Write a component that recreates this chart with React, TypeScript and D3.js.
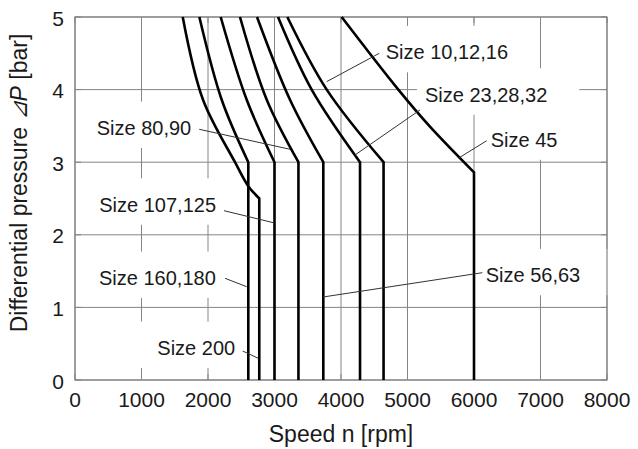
import React from "react";
import * as d3 from "d3";

// ---- data ----
const xTicks = [0, 1000, 2000, 3000, 4000, 5000, 6000, 7000, 8000];
const yTicks = [0, 1, 2, 3, 4, 5];

const curveSizes = ["Size 200", "Size 160,180", "Size 107,125", "Size 80,90", "Size 56,63", "Size 23,28,32", "Size 10,12,16", "Size 45"];
const curveSpeeds = [
  [1620, 1925, 2406, 2606, 2771],
  [1870, 2206, 2606],
  [2191, 2582, 3000],
  [2481, 2883, 3360],
  [2737, 3233, 3734],
  [3053, 3559, 4286],
  [3193, 3785, 4640],
  [4010, 4862, 5338, 6000],
];
const curvePressures = [
  [5, 3.86, 3.0, 2.67, 2.5],
  [5, 3.86, 3.0],
  [5, 3.86, 3.0],
  [5, 3.86, 3.0],
  [5, 3.86, 3.0],
  [5, 4.0, 3.0],
  [5, 4.0, 3.0],
  [5, 4.0, 3.49, 2.86],
];

// annotation anchors in data units (rpm, bar)
const annText = ["Size 10,12,16", "Size 23,28,32", "Size 45", "Size 80,90", "Size 107,125", "Size 160,180", "Size 200", "Size 56,63"];
const annTextAt = [[4672, 4.417], [5263, 3.833], [6251, 3.213], [326, 3.375], [365, 2.318], [361, 1.309], [1238, 0.344], [6176, 1.346]];
const annFrom = [[4576, 4.5], [5188, 3.72], [6191, 3.296], [1869, 3.453], [2241, 2.332], [2256, 1.401], [2522, 0.399], [6125, 1.478]];
const annTo = [[3785, 4.11], [4211, 3.1], [5764, 3.054], [3233, 3.178], [2982, 2.167], [2582, 1.285], [2756, 0.299], [3729, 1.143]];
const annPadL = [8, 8, 8, 8, 8, 8, 20, 8];
const annPadR = [30, 32, 10, 8, 8, 8, 8, 30];

const W = 638, H = 449;
const M = { left: 75, right: 31, top: 17, bottom: 69 };
const FONT = "'Liberation Sans', Arial, Helvetica, sans-serif";
const GRID = "#858585";
const TXT = "#1a1a1a";

function measure(t: string, size: number) {
  const c = document.createElement("canvas").getContext("2d");
  if (!c) return t.length * size * 0.5;
  c.font = `${size}px 'Liberation Sans', Arial, sans-serif`;
  return c.measureText(t).width;
}

export default function App() {
  const x = d3.scaleLinear().domain([0, 8000]).range([M.left, W - M.right]);
  const y = d3.scaleLinear().domain([0, 5]).range([H - M.bottom, M.top]);
  const x0 = x(0), x1 = x(8000), y0 = y(0), y1 = y(5);

  const line = d3
    .line<[number, number]>()
    .x((d) => x(d[0]))
    .y((d) => y(d[1]))
    .curve(d3.curveCatmullRom.alpha(0.5));

  const paths = curveSpeeds.map((sp, i) => {
    const pts: [number, number][] = sp.map((s, j) => [s, curvePressures[i][j]]);
    const last = pts[pts.length - 1];
    return (line(pts) || "") + `L${x(last[0])},${y(0)}`;
  });

  const fs = 20;
  const cap = 14.4;

  return (
    <svg width={W} height={H} style={{ position: "fixed", left: 0, top: 0, background: "#fff" }} fontFamily={FONT}>
      <rect x={0} y={0} width={W} height={H} fill="#fff" />
      {/* grid */}
      {xTicks.map((t) => (
        <line key={"gx" + t} x1={x(t)} x2={x(t)} y1={y0} y2={y1} stroke={GRID} strokeWidth={1} />
      ))}
      {yTicks.map((t) => (
        <line key={"gy" + t} x1={x0} x2={x1} y1={y(t)} y2={y(t)} stroke={GRID} strokeWidth={1} />
      ))}
      {/* label knock-out boxes */}
      {annText.map((t, i) => {
        const tx = x(annTextAt[i][0]);
        const ty = y(annTextAt[i][1]);
        const w = measure(t, fs);
        return (
          <rect
            key={"bx" + i}
            x={tx - annPadL[i]}
            y={ty - cap - 19}
            width={w + annPadL[i] + annPadR[i]}
            height={cap + 19 + 13}
            fill="#fff"
          />
        );
      })}
      {/* inner tick stubs */}
      {xTicks.map((t) => (
        <g key={"sx" + t}>
          <line x1={x(t)} x2={x(t)} y1={y1} y2={y1 + 6} stroke={GRID} />
          <line x1={x(t)} x2={x(t)} y1={y0} y2={y0 - 6} stroke={GRID} />
        </g>
      ))}
      {yTicks.map((t) => (
        <g key={"sy" + t}>
          <line x1={x0} x2={x0 + 6} y1={y(t)} y2={y(t)} stroke={GRID} />
          <line x1={x1} x2={x1 - 6} y1={y(t)} y2={y(t)} stroke={GRID} />
        </g>
      ))}
      {/* frame */}
      <rect x={x0} y={y1} width={x1 - x0} height={y0 - y1} fill="none" stroke={GRID} strokeWidth={1.2} />
      {/* curves */}
      {paths.map((p, i) => (
        <path key={"c" + i} d={p} fill="none" stroke="#000" strokeWidth={2.6} strokeLinejoin="miter" data-name={curveSizes[i]} />
      ))}
      {/* leaders */}
      {annText.map((t, i) => (
        <line
          key={"ld" + i}
          x1={x(annFrom[i][0])}
          y1={y(annFrom[i][1])}
          x2={x(annTo[i][0])}
          y2={y(annTo[i][1])}
          stroke="#333"
          strokeWidth={1}
        />
      ))}
      {/* annotation texts */}
      {annText.map((t, i) => (
        <text key={"at" + i} x={x(annTextAt[i][0])} y={y(annTextAt[i][1])} fontSize={fs} fill={TXT}>
          {t}
        </text>
      ))}
      {/* tick labels */}
      {xTicks.map((t) => (
        <text key={"xl" + t} x={x(t)} y={406.5} textAnchor="middle" fontSize={21} fill={TXT}>
          {t}
        </text>
      ))}
      {yTicks.map((t) => (
        <text key={"yl" + t} x={64} y={y(t) + 8.5} textAnchor="end" fontSize={21} fill={TXT}>
          {t}
        </text>
      ))}
      {/* axis titles */}
      <text x={(x0 + x1) / 2} y={442} textAnchor="middle" fontSize={23} fill={TXT}>
        Speed n [rpm]
      </text>
      <text transform={`translate(27,${183}) rotate(-90)`} textAnchor="middle" fontSize={23} fill={TXT}>
        Differential pressure <tspan fontStyle="italic">⊿P</tspan> [bar]
      </text>
    </svg>
  );
}
